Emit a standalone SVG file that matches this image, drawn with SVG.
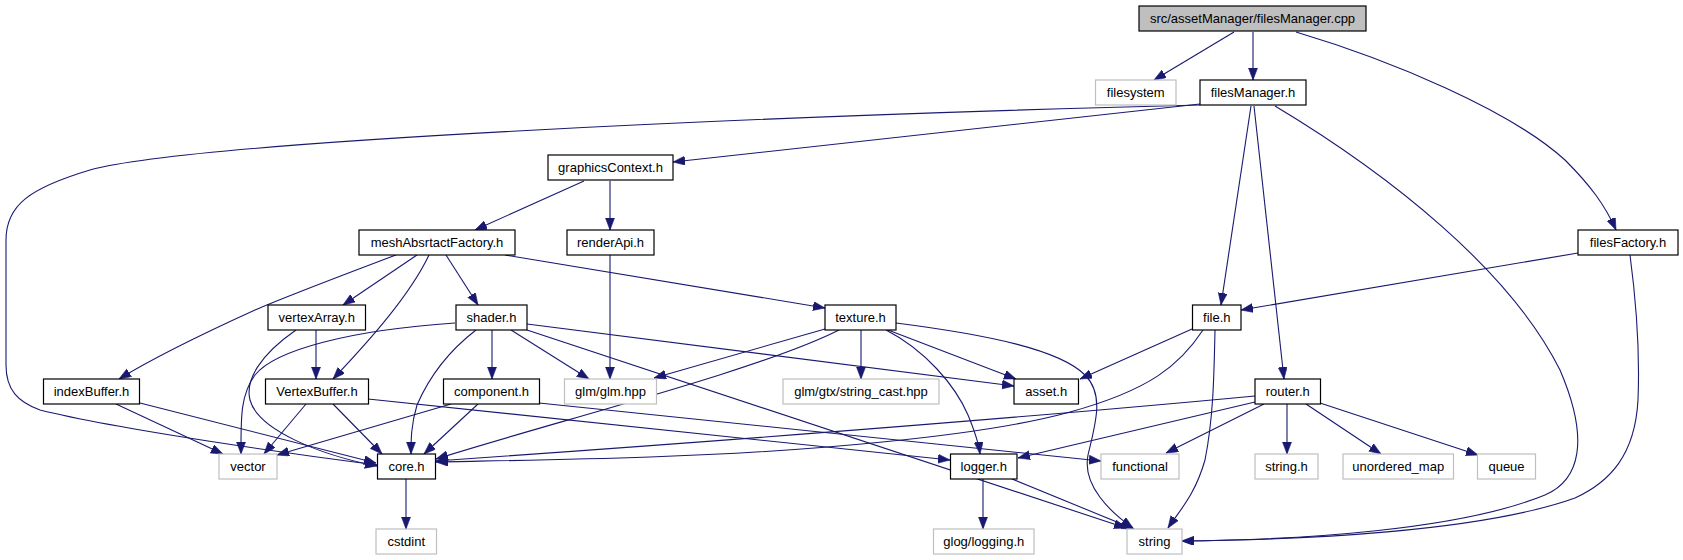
<svg xmlns="http://www.w3.org/2000/svg" width="1683" height="560" viewBox="0 0 1683 560">
<style>
.n rect{fill:#fff;stroke:#000;stroke-width:1.2}
.g rect{fill:#fff;stroke:#bfbfbf;stroke-width:1.2}
.r rect{fill:#bfbfbf;stroke:#000;stroke-width:1.2}
text{font-family:"Liberation Sans",Arial,sans-serif;font-size:13px;fill:#000;text-anchor:middle}
#edges path{fill:none;stroke:#191970;stroke-width:1.1;marker-end:url(#ah)}
</style>
<defs>
<marker id="ah" markerUnits="userSpaceOnUse" markerWidth="13" markerHeight="10" refX="12" refY="4.5" orient="auto">
<path d="M0,0 L12,4.5 L0,9 z" fill="#191970" stroke="#191970" stroke-width="0.6"/>
</marker>
</defs>
<rect width="1683" height="560" fill="#fff"/>
<g id="edges">
<path d="M1234,32 L1154,80"/>
<path d="M1253,32 L1253,80"/>
<path d="M1296,32 C1390,60 1510,110 1565,160 C1590,185 1605,205 1616,230"/>
<path d="M1200,104 L673,162"/>
<path d="M1200,105 C800,115 200,140 90,170 C30,188 6,205 6,240 L6,365 C6,390 18,402 40,410 C120,430 300,455 377,465"/>
<path d="M1251,106 L1221,305"/>
<path d="M1254,106 L1284,379"/>
<path d="M1275,106 C1390,175 1510,270 1560,370 C1590,440 1580,480 1545,495 C1460,530 1300,540 1182,541"/>
<path d="M1578,253 L1241,310"/>
<path d="M1630,255 C1636,300 1640,350 1638,400 C1635,455 1610,482 1575,498 C1480,532 1300,540 1182,541"/>
<path d="M584,181 L475,230"/>
<path d="M610,181 L610,230"/>
<path d="M396,255 C330,280 290,295 255,310 C200,335 150,360 119,379"/>
<path d="M417,255 L343,305"/>
<path d="M429,255 C410,295 370,340 333,379"/>
<path d="M446,255 L478,305"/>
<path d="M505,255 L825,308"/>
<path d="M610,255 L610,379"/>
<path d="M316,330 L316,379"/>
<path d="M296,330 C260,355 245,380 250,400 C258,430 320,455 377,466"/>
<path d="M455,323 C350,330 275,350 255,375 C240,395 241,420 241,454"/>
<path d="M476,330 C450,350 430,375 417,405 C411,425 411,440 411,454"/>
<path d="M492,330 L492,379"/>
<path d="M511,330 L589,379"/>
<path d="M527,324 L1014,386"/>
<path d="M527,330 L1126,528"/>
<path d="M825,329 L654,378"/>
<path d="M839,330 C760,370 560,420 436,459"/>
<path d="M861,330 L861,379"/>
<path d="M886,330 C925,350 955,385 968,415 C975,432 979,445 980,454"/>
<path d="M888,330 L1016,379"/>
<path d="M896,323 C990,335 1060,350 1085,375 C1105,395 1095,425 1088,455 C1082,485 1110,512 1133,528"/>
<path d="M1192,329 L1080,379"/>
<path d="M1203,330 C1180,365 1150,390 1070,412 C980,437 800,452 650,457 C560,460 480,461 436,462"/>
<path d="M1215,330 C1214,380 1213,420 1205,460 C1195,495 1180,510 1168,528"/>
<path d="M1255,396 C1000,420 650,446 436,461"/>
<path d="M1255,402 L1018,458"/>
<path d="M1264,404 L1166,453"/>
<path d="M1287,404 L1287,454"/>
<path d="M1306,404 L1381,454"/>
<path d="M1320,403 L1478,455"/>
<path d="M116,404 L223,454"/>
<path d="M140,403 L376,463"/>
<path d="M306,404 L264,454"/>
<path d="M333,404 L382,454"/>
<path d="M368,399 L950,460"/>
<path d="M451,404 L277,455"/>
<path d="M478,404 L424,454"/>
<path d="M539,403 L1101,461"/>
<path d="M406,479 L406,529"/>
<path d="M983,479 L983,529"/>
<path d="M1012,479 L1134,529"/>
</g>
<g id="root" class="r"><rect x="1139" y="6" width="227" height="25"/><text x="1252.5" y="23">src/assetManager/filesManager.cpp</text></g>
<g id="filesystem" class="g"><rect x="1095.5" y="80" width="80.5" height="25"/><text x="1135.75" y="97">filesystem</text></g>
<g id="filesManager_h" class="n"><rect x="1200" y="80" width="106" height="25"/><text x="1253" y="97">filesManager.h</text></g>
<g id="graphicsContext_h" class="n"><rect x="548" y="155" width="125" height="25"/><text x="610.5" y="172">graphicsContext.h</text></g>
<g id="meshAbsrtactFactory_h" class="n"><rect x="359" y="230" width="156" height="25"/><text x="437" y="247">meshAbsrtactFactory.h</text></g>
<g id="renderApi_h" class="n"><rect x="567" y="230" width="87" height="25"/><text x="610.5" y="247">renderApi.h</text></g>
<g id="filesFactory_h" class="n"><rect x="1578" y="230" width="100" height="25"/><text x="1628" y="247">filesFactory.h</text></g>
<g id="vertexArray_h" class="n"><rect x="268" y="305" width="97.5" height="25"/><text x="316.75" y="322">vertexArray.h</text></g>
<g id="shader_h" class="n"><rect x="456" y="305" width="71" height="25"/><text x="491.5" y="322">shader.h</text></g>
<g id="texture_h" class="n"><rect x="825" y="305" width="71" height="25"/><text x="860.5" y="322">texture.h</text></g>
<g id="file_h" class="n"><rect x="1192.5" y="305" width="48.5" height="25"/><text x="1216.75" y="322">file.h</text></g>
<g id="indexBuffer_h" class="n"><rect x="43.5" y="379" width="96" height="25"/><text x="91.5" y="396">indexBuffer.h</text></g>
<g id="VertexBuffer_h" class="n"><rect x="265.5" y="379" width="103" height="25"/><text x="317" y="396">VertexBuffer.h</text></g>
<g id="component_h" class="n"><rect x="443.5" y="379" width="96" height="25"/><text x="491.5" y="396">component.h</text></g>
<g id="glm_hpp" class="g"><rect x="564.5" y="379" width="92" height="25"/><text x="610.5" y="396">glm/glm.hpp</text></g>
<g id="string_cast_hpp" class="g"><rect x="783" y="379" width="156" height="25"/><text x="861" y="396">glm/gtx/string_cast.hpp</text></g>
<g id="asset_h" class="n"><rect x="1014" y="379" width="64.5" height="25"/><text x="1046.25" y="396">asset.h</text></g>
<g id="router_h" class="n"><rect x="1255" y="379" width="65.5" height="25"/><text x="1287.75" y="396">router.h</text></g>
<g id="vector" class="g"><rect x="219" y="454" width="58" height="25"/><text x="248" y="471">vector</text></g>
<g id="core_h" class="n"><rect x="377.5" y="454" width="58" height="25"/><text x="406.5" y="471">core.h</text></g>
<g id="logger_h" class="n"><rect x="950.5" y="454" width="66.5" height="25"/><text x="983.75" y="471">logger.h</text></g>
<g id="functional" class="g"><rect x="1101" y="454" width="78" height="25"/><text x="1140" y="471">functional</text></g>
<g id="string_h" class="g"><rect x="1255" y="454" width="63" height="25"/><text x="1286.5" y="471">string.h</text></g>
<g id="unordered_map" class="g"><rect x="1343" y="454" width="110.5" height="25"/><text x="1398.25" y="471">unordered_map</text></g>
<g id="queue" class="g"><rect x="1477.5" y="454" width="58" height="25"/><text x="1506.5" y="471">queue</text></g>
<g id="cstdint" class="g"><rect x="376" y="529" width="60.5" height="25"/><text x="406.25" y="546">cstdint</text></g>
<g id="glog_logging_h" class="g"><rect x="933.5" y="529" width="100.5" height="25"/><text x="983.75" y="546">glog/logging.h</text></g>
<g id="string" class="g"><rect x="1127" y="529" width="55" height="25"/><text x="1154.5" y="546">string</text></g>
</svg>
